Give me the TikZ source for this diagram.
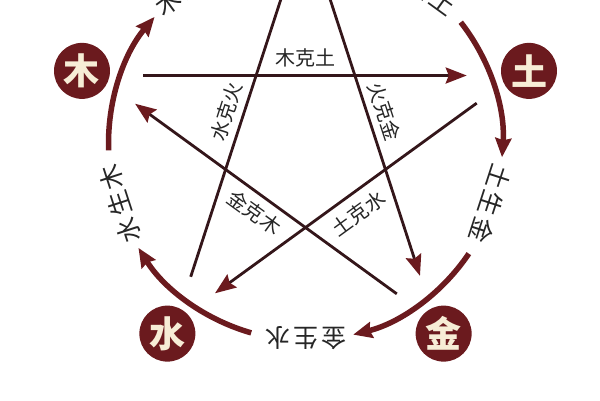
\documentclass[tikz,border=0pt]{standalone}
\usepackage{fontspec}
\usepackage{xcolor}
\usepackage{tikz}
\usetikzlibrary{arrows.meta}
\newfontfamily\cjk{Noto Sans CJK SC}
\newfontfamily\cjkwide[LetterSpace=12]{Noto Sans CJK SC}
\definecolor{wxred}{HTML}{6B1A1E}
\definecolor{wxline}{HTML}{34161A}
\definecolor{wxcream}{HTML}{F7EDD6}

\begin{document}
\begin{tikzpicture}[x=1pt, y=1pt,
    elem/.style={circle, fill=wxred, text=wxcream, minimum size=56pt,
        inner sep=0pt, font=\cjk\bfseries\fontsize{36}{36}\selectfont},
    kelabel/.style={inner sep=0pt, text=black!85,
        font=\cjk\fontsize{20}{20}\selectfont},
    shlabel/.style={inner sep=0pt, text=black!85,
        font=\cjkwide\fontsize{25}{25}\selectfont},
    ke/.style={draw=wxline, line width=2.8pt, shorten <=47pt, shorten >=48pt,
        -{Stealth[length=21pt, width=16pt, inset=3pt, color=wxred]}},
    sheng/.style={draw=wxred, line width=5.5pt,
        -{Stealth[length=19pt, width=16pt, inset=2pt]}}]

                \def\R{235}
                \def\s{220}
                \def\a{197}
                \def\t{195}

                \useasboundingbox (0,0) rectangle (600,400);
                \clip (0,0) rectangle (600,400);

                % Scope used to put the centre of the star at the origin
                \begin{scope}[shift={(305.5,256.5)}]

                    \node[elem] (mu) at (162:\R) {木};
                    \node[elem] (tu) at (18:\R) {土};
                    \node[elem] (jin) at (-54:\R) {金};
                    \node[elem] (shui) at (234:\R) {水};

                    % points of the star, fire lies above the page
                    \coordinate (s-mu) at (162:\s);
                    \coordinate (s-huo) at (90:\s);
                    \coordinate (s-tu) at (18:\s);
                    \coordinate (s-jin) at (-54:\s);
                    \coordinate (s-shui) at (234:\s);

                    \node[kelabel] (mu-tu) at (0,86) {木克土};
                    \node[kelabel, rotate=72] (shui-huo) at (-79,32) {水克火};
                    \node[kelabel, rotate=-72] (huo-jin) at (79,32) {火克金};
                    \node[kelabel, rotate=-36] (jin-mu) at (-51,-69) {金克木};
                    \node[kelabel, rotate=36] (tu-shui) at (53,-70) {土克水};

                    \node[shlabel, rotate=36] (mu-huo) at (126:\t) {木生火};
                    \node[shlabel, rotate=-36] (huo-tu) at (54:\t) {火生土};
                    \node[shlabel, rotate=-108] (tu-jin) at (-18:\t) {土生金};
                    \node[shlabel, rotate=180] (jin-shui) at (-90:\t) {金生水};
                    \node[shlabel, rotate=108] (shui-mu) at (198:\t) {水生木};
                \end{scope}

                \begin{scope}[shift={(305.5,256.5)}]
                    \draw[ke] (s-mu) -- (s-tu);
                    \draw[ke] (s-tu) -- (s-shui);
                    \draw[ke] (s-shui) -- (s-huo);
                    \draw[ke] (s-huo) -- (s-jin);
                    \draw[ke] (s-jin) -- (s-mu);

                    \draw[sheng] (182:\a) arc[start angle=182, end angle=140, radius=\a];
                    \draw[sheng] (38:\a) arc[start angle=38, end angle=-4, radius=\a];
                    \draw[sheng] (-34:\a) arc[start angle=-34, end angle=-76, radius=\a];
                    \draw[sheng] (254:\a) arc[start angle=254, end angle=212, radius=\a];
                \end{scope}

\end{tikzpicture}
\end{document}
